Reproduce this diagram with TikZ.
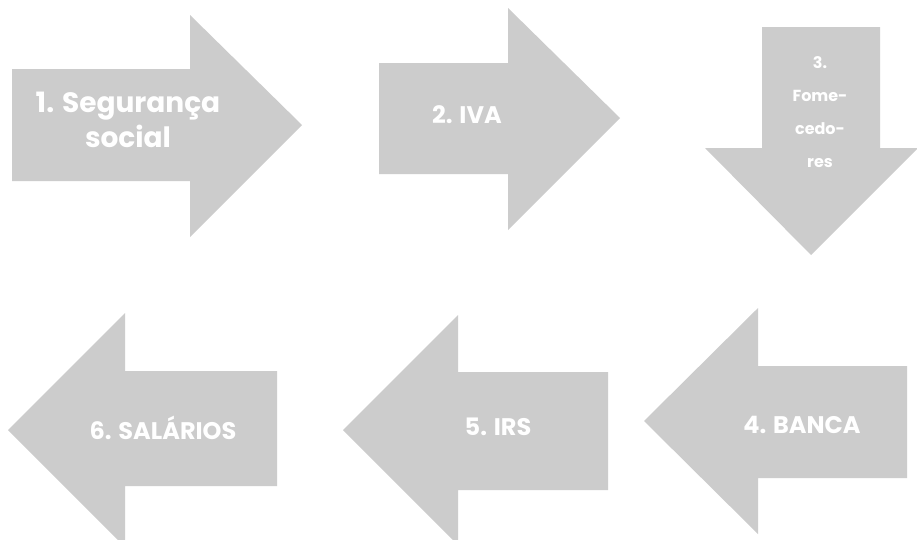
\documentclass[tikz,border=0pt]{standalone}
\usepackage{fontspec}
\setmainfont{Poppins}
\usepackage{xcolor}
\usepackage{tikz}
\definecolor{arrowgrey}{RGB}{204,204,204}
\tikzset{
	arrowbox/.style={fill=arrowgrey},
	arrowlabel/.style={text=white, font=\bfseries\fontsize{24}{33}\selectfont, align=center, inner sep=0pt},
}

\begin{document}
\begin{tikzpicture}[x=1pt, y=-1pt]
		\useasboundingbox (0,0) rectangle (917,539);
		\clip (0,0) rectangle (917,539);
		\fill[white] (0,0) rectangle (917,539);

		% top row: two to the right, one down
		\fill[arrowbox] (12,69) -- (190,69) -- (190,15) -- (302,125) -- (190,237) -- (190,181) -- (12,181) -- cycle;
		\fill[arrowbox] (379,63) -- (508,63) -- (508,8) -- (620,118) -- (508,230) -- (508,174) -- (379,174) -- cycle;
		\fill[arrowbox] (762,27) -- (880,27) -- (880,148) -- (918,148) -- (811,255) -- (705,148) -- (762,148) -- cycle;

		% bottom row: tip, head base, half head, shaft top/bottom/right
		\foreach \tx/\ty/\hx/\hh/\st/\sb/\sr in {8/430/125/117/371/486/277, 343/430/458/115/372/490/608, 644/421/758/113/366/478/907} {
				\fill[arrowbox] (\tx,\ty) -- (\hx,\ty-\hh) -- (\hx,\st) -- (\sr,\st) -- (\sr,\sb) -- (\hx,\sb) -- (\hx,\ty+\hh) -- cycle;
			}

		\node[arrowlabel, font=\bfseries\fontsize{28}{35}\selectfont] (seg) at (128,120) {1. Segurança\\social};
		\node[arrowlabel] (iva) at (467,115) {2. IVA};
		\node[arrowlabel, font=\bfseries\fontsize{16}{33}\selectfont] (forn) at (820,112) {3.\\Fome-\\cedo-\\res};
		\node[arrowlabel] (banca) at (802,425) {4. BANCA};
		\node[arrowlabel] (irs) at (498,427) {5. IRS};
		\node[arrowlabel] (sal) at (163,428) {6. SALÁRIOS};
	\end{tikzpicture}
\end{document}
